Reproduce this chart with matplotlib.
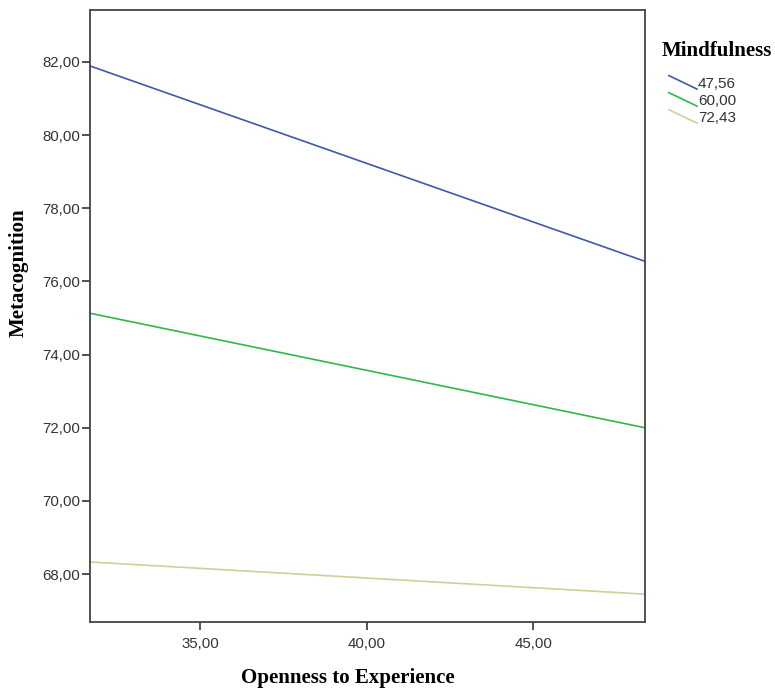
import matplotlib
matplotlib.use("Agg")
import matplotlib.pyplot as plt
from matplotlib.lines import Line2D
from matplotlib.legend_handler import HandlerBase
from matplotlib.ticker import FuncFormatter

# data
openness = [31.7, 48.35]
mindfulness_levels = ["47,56", "60,00", "72,43"]
meta_low = [81.89, 76.55]
meta_mid = [75.13, 72.0]
meta_high = [68.33, 67.45]
colors = ["#3E58AC", "#2EB848", "#D3CE97"]

x_ticks = [35, 40, 45]
y_ticks = [68, 70, 72, 74, 76, 78, 80, 82]


class DiagHandler(HandlerBase):
  # SPSS draws the legend key as a short sloping line, indented a little
  def create_artists(self, legend, orig_handle, xdescent, ydescent, width, height, fontsize, trans):
    x0 = -xdescent + width * 0.2
    ln = Line2D([x0, width - xdescent], [height - ydescent + 1, -ydescent - 1],
                color=orig_handle.get_color(), lw=orig_handle.get_linewidth())
    ln.set_transform(trans)
    return [ln]


fig = plt.figure(figsize=(7.75, 6.9), dpi=100)
ax = fig.add_axes([0.116, 0.0986, 0.716, 0.887])

handles = []
for series, col, lab in zip([meta_low, meta_mid, meta_high], colors, mindfulness_levels):
  h, = ax.plot(openness, series, color=col, lw=1.2, label=lab)
  handles.append(h)

ax.set_xlim(31.7, 48.35)
ax.set_ylim(66.69, 83.42)
ax.set_xticks(x_ticks)
ax.set_yticks(y_ticks)
comma = FuncFormatter(lambda v, p: "{:.2f}".format(v).replace(".", ","))
ax.xaxis.set_major_formatter(comma)
ax.yaxis.set_major_formatter(comma)

for s in ax.spines.values():
  s.set_color("#444444")
  s.set_linewidth(1.3)
ax.tick_params(direction="out", length=6, width=1.3, color="#444444",
               labelsize=10.8, labelcolor="#333333")
for t in ax.get_xticklabels() + ax.get_yticklabels():
  t.set_family("Liberation Sans")
ax.tick_params(axis="x", pad=5)
ax.tick_params(axis="y", pad=1)

ax.set_xlabel("Openness to Experience", family="Liberation Serif", fontweight="bold",
              fontsize=15, va="center")
ax.xaxis.set_label_coords(0.465, -0.091)
ax.set_ylabel("Metacognition", family="Liberation Serif", fontweight="bold",
              fontsize=15, va="center")
ax.yaxis.set_label_coords(-0.128, 0.57)

leg = fig.legend(handles=handles, labels=mindfulness_levels, title="Mindfulness",
                 handler_map={Line2D: DiagHandler()},
                 loc="upper left", bbox_to_anchor=(0.854, 0.94), frameon=False,
                 handlelength=2.3, handletextpad=0.05, labelspacing=0.2,
                 prop={"family": "Liberation Sans", "size": 11},
                 alignment="left", borderpad=0, borderaxespad=0)
leg.get_title().set_fontfamily("Liberation Serif")
leg.get_title().set_fontweight("bold")
leg.get_title().set_fontsize(15)
leg._legend_box.sep = 11
for t in leg.get_texts():
  t.set_color("#333333")

fig.savefig("out.png", dpi=100)
